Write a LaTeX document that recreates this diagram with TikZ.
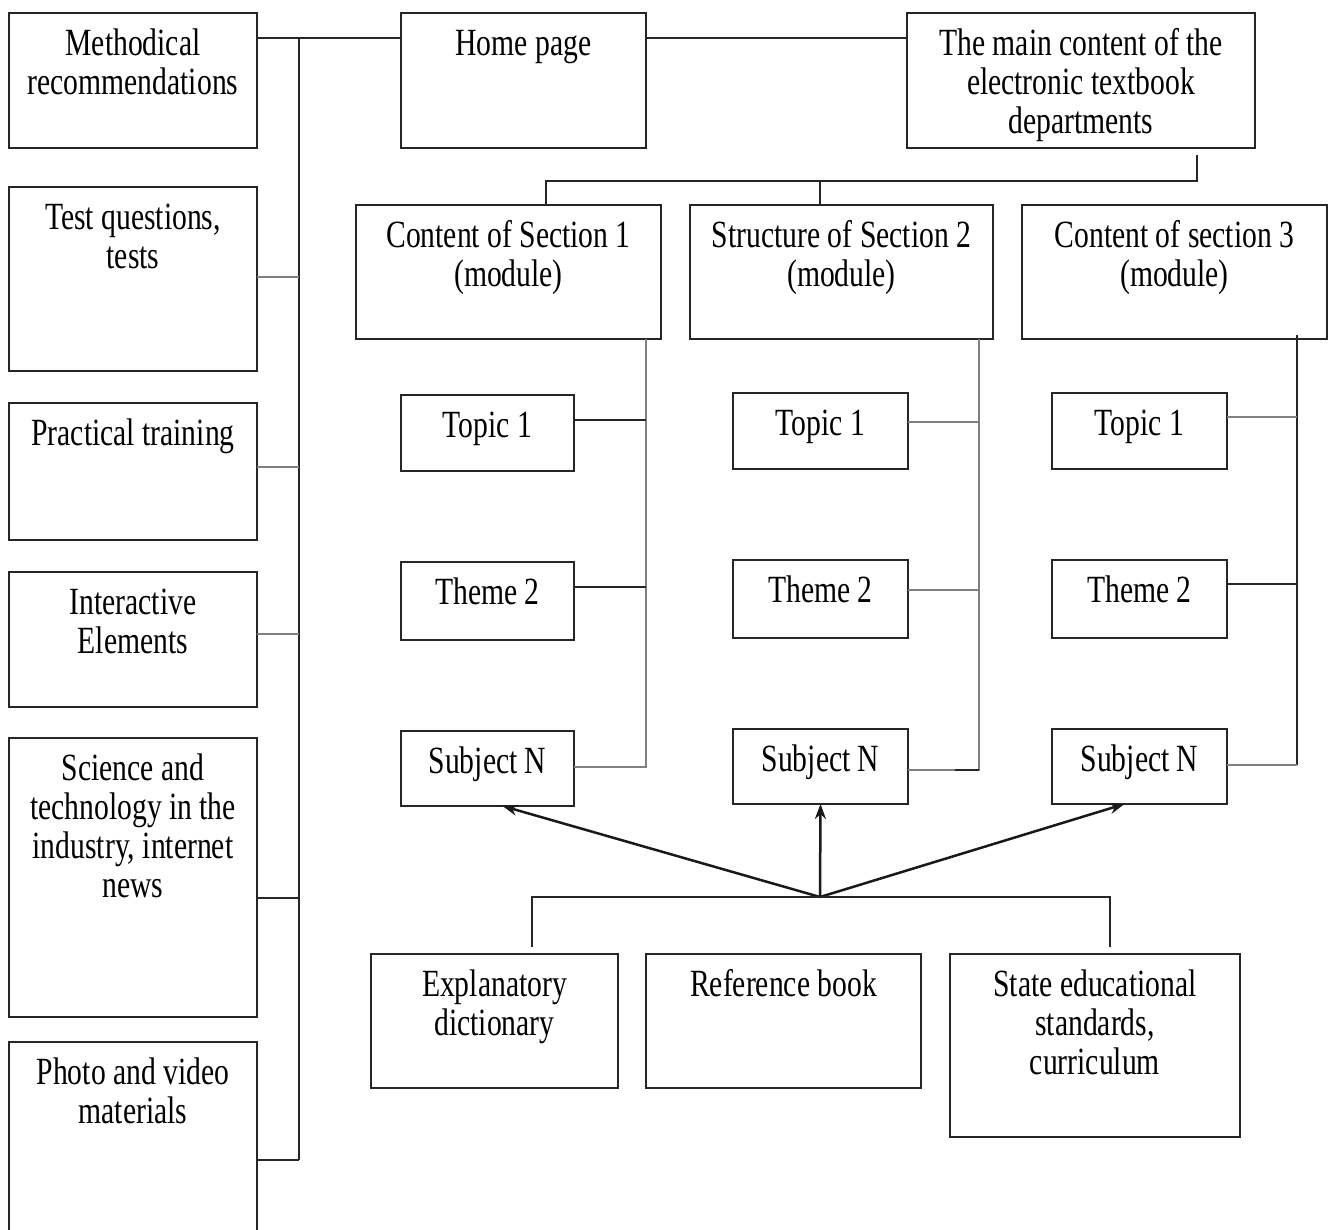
\documentclass[tikz,border=0pt]{standalone}
\usepackage{fontspec}
\setmainfont{Liberation Serif}[FakeStretch=0.77]
\usetikzlibrary{calc,arrows.meta}
\newcommand{\bxt}[3]{\begin{minipage}[t][#2pt][t]{#1pt}\centering\fontsize{38.5pt}{39pt}\selectfont\vspace*{15pt}\strut #3\end{minipage}}
\tikzset{
  bx/.style={draw=black!85, line width=2.2pt, inner sep=0pt, outer sep=0pt, anchor=north west},
  ln/.style={draw=black!85, line width=2pt},
  lng/.style={draw=black!50, line width=1.9pt},
  arr/.style={draw=black!90, line width=2.5pt, -{Stealth[length=15pt,width=11pt]}}
}
\begin{document}
\begin{tikzpicture}[x=1pt,y=-1pt]
\fill[white] (0,0) rectangle (1328,1230);
\useasboundingbox (0,0) rectangle (1328,1230);

% left column
\node[bx] (m1)  at (9,13)   {\bxt{248}{135}{Methodical\\recommendations}};
\node[bx] (tq)  at (9,187)  {\bxt{248}{184}{Test questions,\\tests}};
\node[bx] (ptr) at (9,403)  {\bxt{248}{137}{Practical training}};
\node[bx] (ie)  at (9,572)  {\bxt{248}{135}{Interactive\\Elements}};
\node[bx] (sci) at (9,738)  {\bxt{248}{279}{Science and\\technology in the\\industry, internet\\news}};
\node[bx] (ph)  at (9,1042) {\bxt{248}{200}{Photo and video\\materials}};

% top row
\node[bx] (home) at (401,13) {\bxt{245}{135}{Home page}};
\node[bx] (main) at (907,13) {\bxt{348}{135}{The main content of the\\electronic textbook\\departments}};

% sections
\node[bx] (s1) at (356,205)  {\bxt{305}{134}{Content of Section 1\\(module)}};
\node[bx] (s2) at (690,205)  {\bxt{303}{134}{Structure of Section 2\\(module)}};
\node[bx] (s3) at (1022,205) {\bxt{305}{134}{Content of section 3\\(module)}};

% topics
\node[bx] (a1) at (401,395) {\bxt{173}{76}{Topic 1}};
\node[bx] (a2) at (401,562) {\bxt{173}{78}{Theme 2}};
\node[bx] (a3) at (401,731) {\bxt{173}{75}{Subject N}};
\node[bx] (b1) at (733,393) {\bxt{175}{76}{Topic 1}};
\node[bx] (b2) at (733,560) {\bxt{175}{78}{Theme 2}};
\node[bx] (b3) at (733,729) {\bxt{175}{75}{Subject N}};
\node[bx] (c1) at (1052,393) {\bxt{175}{76}{Topic 1}};
\node[bx] (c2) at (1052,560) {\bxt{175}{78}{Theme 2}};
\node[bx] (c3) at (1052,729) {\bxt{175}{75}{Subject N}};

% bottom
\node[bx] (e1) at (371,954) {\bxt{247}{134}{Explanatory\\dictionary}};
\node[bx] (e2) at (646,954) {\bxt{275}{134}{Reference book}};
\node[bx] (e3) at (950,954) {\bxt{290}{183}{State educational\\standards,\\curriculum}};

% left bus
\coordinate (bt) at (299,38);
\coordinate (bb) at (299,1160);
\draw[ln] ($(m1.north east)+(0,25)$) -- ($(home.north west)+(0,25)$);
\draw[ln] (bt) -- (bb);
\draw[lng] ($(tq.north east)+(0,90)$) coordinate (p2) -- (p2 -| bt);
\draw[lng] ($(ptr.north east)+(0,64)$) coordinate (p3) -- (p3 -| bt);
\draw[lng] ($(ie.north east)+(0,62)$) coordinate (p4) -- (p4 -| bt);
\draw[ln] ($(sci.north east)+(0,160)$) coordinate (p5) -- (p5 -| bt);
\draw[ln] ($(ph.north east)+(0,118)$) coordinate (p6) -- (p6 -| bt);

% home to main
\draw[ln] ($(home.north east)+(0,25)$) -- ($(main.north west)+(0,25)$);

% main to sections
\coordinate (mj) at ($(main.south west)+(290,7)$);
\coordinate (hy) at (0,181);
\coordinate (s1d) at ($(s1.north west)+(190,0)$);
\coordinate (s2d) at ($(s2.north west)+(130,0)$);
\draw[ln] (mj) -- (mj |- hy) -- (s1d |- hy) -- (s1d);
\draw[ln] (s2d |- hy) -- (s2d);

% column 1 bus
\coordinate (k1t) at ($(s1.south east)+(-15,0)$);
\coordinate (k1b) at ($(a3.north east)+(72,36)$);
\draw[lng] (k1t) -- (k1b) -- ($(a3.north east)+(0,36)$);
\draw[ln] ($(a1.north east)+(0,25)$) coordinate (q1) -- (q1 -| k1t);
\draw[ln] ($(a2.north east)+(0,25)$) coordinate (q2) -- (q2 -| k1t);

% column 2 bus
\coordinate (k2t) at ($(s2.south east)+(-14,0)$);
\coordinate (k2b) at ($(b3.north east)+(71,41)$);
\draw[lng] (k2t) -- (k2b) -- ($(b3.north east)+(0,41)$);
\draw[ln] (k2b) -- ($(k2b)+(-24,0)$);
\draw[lng] ($(b1.north east)+(0,29)$) coordinate (r1) -- (r1 -| k2t);
\draw[lng] ($(b2.north east)+(0,30)$) coordinate (r2) -- (r2 -| k2t);

% column 3 bus
\coordinate (k3t) at ($(s3.south east)+(-30,-4)$);
\coordinate (k3b) at ($(c3.north east)+(70,36)$);
\draw[ln] (k3t) -- (k3b);
\draw[lng] ($(c3.north east)+(0,36)$) -- (k3b);
\draw[lng] ($(c1.north east)+(0,24)$) coordinate (u1) -- (u1 -| k3t);
\draw[ln] ($(c2.north east)+(0,24)$) coordinate (u2) -- (u2 -| k3t);

% hub and arrows
\coordinate (hub) at (820,897);
\draw[arr] (hub) -- ($(a3.south)+(15,0)$);
\draw[arr] (hub) -- (b3.south);
\draw[arr] (hub) -- ($(c3.south)+(-15,0)$);

% bottom distribution
\draw[ln] ($(e1.north)+(37,-7)$) -- ($(e1.north)+(37,-57)$) -- ($(e3.north)+(15,-57)$) -- ($(e3.north)+(15,-7)$);

\end{tikzpicture}
\end{document}
